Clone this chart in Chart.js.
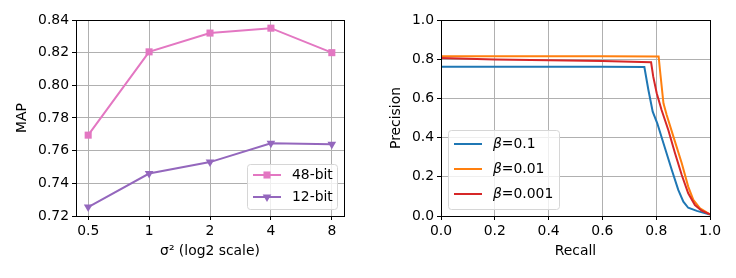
<!DOCTYPE html>
<html>
<head>
<meta charset="utf-8">
<script src="https://cdn.jsdelivr.net/npm/chart.js@4/dist/chart.umd.min.js"></script>
<style>
  html, body { margin: 0; padding: 0; background: #fff; }
  #wrap { position: relative; width: 736px; height: 278px; }
  canvas { position: absolute; top: 0; }
</style>
</head>
<body>
<div id="wrap">
  <canvas id="mapChart" width="368" height="278" style="left:0"></canvas>
  <canvas id="prChart" width="368" height="278" style="left:368px"></canvas>
</div>
<script>
// ---------- Data ----------
const sigma2 = [0.5, 1, 2, 4, 8];
const map48 = [0.7695, 0.8205, 0.832, 0.835, 0.820];
const map12 = [0.7255, 0.746, 0.753, 0.7645, 0.764];
const mapTicks = [0.72, 0.74, 0.76, 0.78, 0.80, 0.82, 0.84];

const prTicks = [0, 0.2, 0.4, 0.6, 0.8, 1.0];
// beta = 0.1
const recB1 = [0, 0.2, 0.4, 0.6, 0.756, 0.771, 0.787, 0.804, 0.827, 0.858, 0.882, 0.901, 0.919, 0.951, 1.0];
const preB1 = [0.762, 0.762, 0.761, 0.761, 0.760, 0.643, 0.532, 0.473, 0.371, 0.235, 0.133, 0.073, 0.042, 0.026, 0.008];
// beta = 0.01
const recB2 = [0, 0.2, 0.4, 0.6, 0.809, 0.814, 0.827, 0.839, 0.864, 0.895, 0.919, 0.938, 0.963, 1.0];
const preB2 = [0.815, 0.815, 0.815, 0.815, 0.814, 0.745, 0.575, 0.515, 0.405, 0.269, 0.150, 0.082, 0.039, 0.008];
// beta = 0.001
const recB3 = [0, 0.2, 0.4, 0.6, 0.781, 0.789, 0.802, 0.820, 0.845, 0.870, 0.895, 0.919, 0.944, 0.969, 1.0];
const preB3 = [0.806, 0.798, 0.795, 0.791, 0.784, 0.711, 0.626, 0.541, 0.439, 0.320, 0.209, 0.116, 0.056, 0.027, 0.008];

// ---------- Style ----------
const FONT = '"DejaVu Sans", sans-serif';
const FS = 13.9;
Chart.defaults.font = { family: FONT, size: FS };
Chart.defaults.color = '#000';
const GRID = '#b0b0b0';
const C = { pink: '#e377c2', purple: '#9467bd', blue: '#1f77b4', orange: '#ff7f0e', red: '#d62728' };

const pts = (xs, ys) => xs.map((x, i) => ({ x, y: ys[i] }));
const fixTicks = vals => scale => { scale.ticks = vals.map(v => ({ value: v })); };

const axisBase = (ticks, fmt) => ({
  afterBuildTicks: fixTicks(ticks),
  grid: { color: GRID, lineWidth: 1, tickColor: '#000', tickLength: 4 },
  border: { color: '#000', width: 1 },
  ticks: { padding: 3, callback: fmt, autoSkip: false, maxRotation: 0 },
});

// ---------- Plugins ----------
const frame = {
  id: 'frame',
  afterDatasetsDraw(chart) {
    const { ctx, chartArea: a } = chart;
    ctx.save();
    ctx.strokeStyle = '#000';
    ctx.lineWidth = 1;
    ctx.strokeRect(a.left + 0.5, a.top + 0.5, a.right - a.left, a.bottom - a.top);
    ctx.restore();
  }
};

function marker(ctx, style, x, y, r) {
  ctx.beginPath();
  if (style === 'rect') {
    const s = r * Math.SQRT1_2;
    ctx.rect(x - s, y - s, 2 * s, 2 * s);
  } else if (style === 'triangleDown') {
    ctx.moveTo(x, y + r);
    ctx.lineTo(x + r * 0.866, y - r * 0.5);
    ctx.lineTo(x - r * 0.866, y - r * 0.5);
    ctx.closePath();
  }
  ctx.fill();
}

// box legend drawn inside the axes, matplotlib style
const boxLegend = (box, rows) => ({
  id: 'boxLegend',
  afterDraw(chart) {
    const ctx = chart.ctx;
    ctx.save();
    ctx.beginPath();
    ctx.roundRect(box.x + 0.5, box.y + 0.5, box.w, box.h, 3);
    ctx.fillStyle = 'rgba(255,255,255,0.8)';
    ctx.fill();
    ctx.strokeStyle = '#d6d6d6';
    ctx.lineWidth = 1;
    ctx.stroke();
    rows.forEach((r, i) => {
      const y = box.y + box.first + i * box.step;
      ctx.strokeStyle = r.color;
      ctx.lineWidth = 2;
      ctx.beginPath();
      ctx.moveTo(box.x + 6, y);
      ctx.lineTo(box.x + 34, y);
      ctx.stroke();
      if (r.marker) { ctx.fillStyle = r.color; marker(ctx, r.marker, box.x + 20, y, 5); }
      ctx.fillStyle = '#000';
      ctx.textBaseline = 'middle';
      let tx = box.x + 45;
      if (r.italic) {
        ctx.font = `italic ${FS}px ${FONT}`;
        ctx.fillText(r.italic, tx, y);
        tx += ctx.measureText(r.italic).width;
      }
      ctx.font = `${FS}px ${FONT}`;
      ctx.fillText(r.text, tx, y);
    });
    ctx.restore();
  }
});

// ---------- Left: MAP vs sigma^2 ----------
new Chart(document.getElementById('mapChart'), {
  type: 'line',
  data: {
    datasets: [
      { label: '48-bit', data: pts(sigma2, map48), borderColor: C.pink, backgroundColor: C.pink,
        borderWidth: 2, pointStyle: 'rect', pointRadius: 5, pointBorderWidth: 0, tension: 0 },
      { label: '12-bit', data: pts(sigma2, map12), borderColor: C.purple, backgroundColor: C.purple,
        borderWidth: 2, pointStyle: 'triangle', pointRotation: 180, pointRadius: 5, pointBorderWidth: 0, tension: 0 },
    ]
  },
  options: {
    responsive: false, animation: false, devicePixelRatio: 1,
    layout: { padding: { left: 0, top: 20, right: 24, bottom: 0 } },
    plugins: { legend: { display: false }, tooltip: { enabled: false } },
    scales: {
      x: {
        type: 'logarithmic', min: 0.5 * Math.pow(2, -0.2), max: 8 * Math.pow(2, 0.2),
        ...axisBase(sigma2, v => String(v)),
        afterFit: s => { s.height = 62; },
        title: { display: true, text: 'σ² (log2 scale)', padding: { top: 0, bottom: 18 } },
      },
      y: {
        type: 'linear', min: 0.72, max: 0.84,
        ...axisBase(mapTicks, v => v.toFixed(2)),
        afterFit: s => { s.width = 76; },
        title: { display: true, text: 'MAP', padding: { top: 14, bottom: 0 } },
      }
    }
  },
  plugins: [frame, boxLegend({ x: 247, y: 164, w: 90, h: 45, first: 11, step: 22 }, [
    { color: C.pink, marker: 'rect', text: '48-bit' },
    { color: C.purple, marker: 'triangleDown', text: '12-bit' },
  ])]
});

// ---------- Right: precision-recall ----------
const prLine = (italic, text, color, xs, ys, order) => ({
  label: italic + text, data: pts(xs, ys), borderColor: color, backgroundColor: color,
  borderWidth: 2, pointRadius: 0, tension: 0, order
});

new Chart(document.getElementById('prChart'), {
  type: 'line',
  data: {
    datasets: [
      prLine('β', '=0.1', C.blue, recB1, preB1, 2),
      prLine('β', '=0.01', C.orange, recB2, preB2, 1),
      prLine('β', '=0.001', C.red, recB3, preB3, 0),
    ]
  },
  options: {
    responsive: false, animation: false, devicePixelRatio: 1,
    layout: { padding: { left: 0, top: 20, right: 26, bottom: 0 } },
    plugins: { legend: { display: false }, tooltip: { enabled: false } },
    scales: {
      x: {
        type: 'linear', min: 0, max: 1,
        ...axisBase(prTicks, v => v.toFixed(1)),
        afterFit: s => { s.height = 62; },
        title: { display: true, text: 'Recall', padding: { top: 0, bottom: 18 } },
      },
      y: {
        type: 'linear', min: 0, max: 1,
        ...axisBase(prTicks, v => v.toFixed(1)),
        afterFit: s => { s.width = 73; },
        title: { display: true, text: 'Precision', padding: { top: 20, bottom: 0 } },
      }
    }
  },
  plugins: [frame, boxLegend({ x: 80, y: 130, w: 111, h: 79, first: 14, step: 25 }, [
    { color: C.blue, italic: 'β', text: '=0.1' },
    { color: C.orange, italic: 'β', text: '=0.01' },
    { color: C.red, italic: 'β', text: '=0.001' },
  ])]
});
</script>
</body>
</html>
